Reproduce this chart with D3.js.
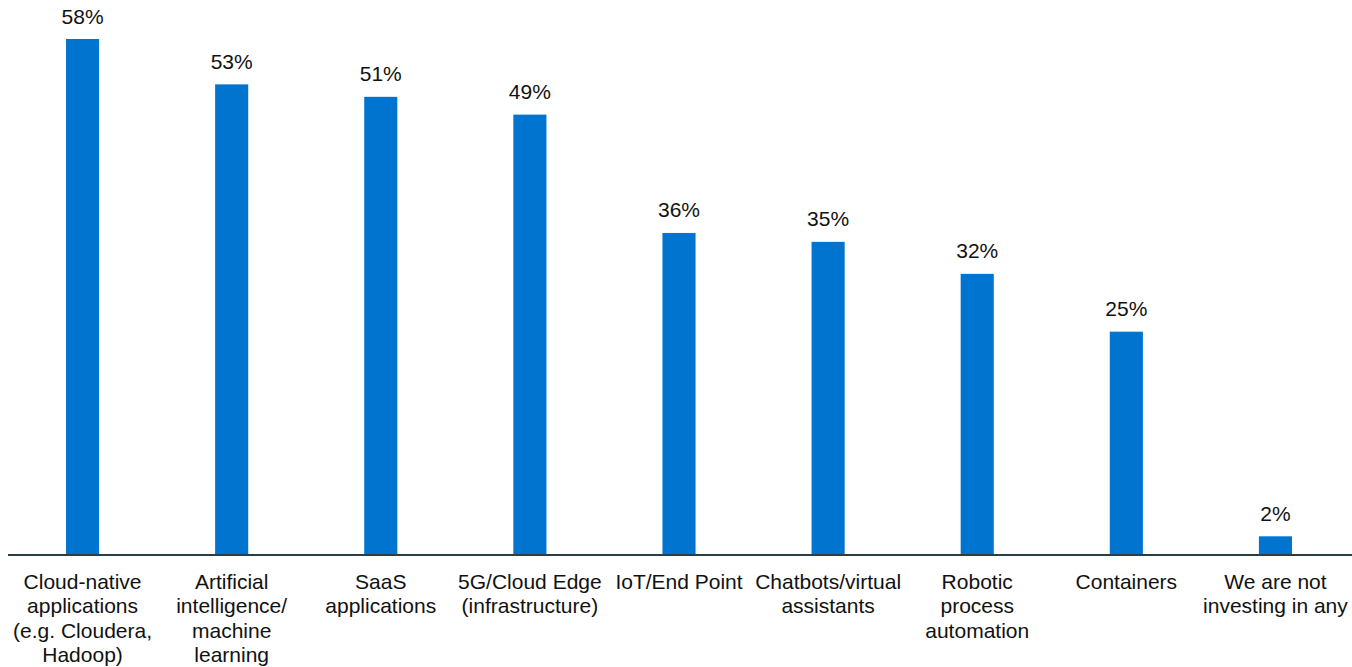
<!DOCTYPE html>
<html><head><meta charset="utf-8">
<script src="https://cdn.jsdelivr.net/npm/d3@7"></script>
<style>html,body{margin:0;padding:0;background:#fff;}svg{display:block;}</style>
</head><body>
<svg id="chart" width="1352" height="667"></svg>
<script>
const categories = [
  ["Cloud-native","applications","(e.g. Cloudera,","Hadoop)"],
  ["Artificial","intelligence/","machine","learning"],
  ["SaaS","applications"],
  ["5G/Cloud Edge","(infrastructure)"],
  ["IoT/End Point"],
  ["Chatbots/virtual","assistants"],
  ["Robotic","process","automation"],
  ["Containers"],
  ["We are not","investing in any"]
];
const values = [58, 52.9, 51.5, 49.5, 36.2, 35.2, 31.6, 25.1, 2.1];
const valueLabels = ["58%","53%","51%","49%","36%","35%","32%","25%","2%"];

const svg = d3.select("#chart");
const baseY = 555;
const x = d3.scaleBand().domain(d3.range(values.length)).range([8, 1350]).paddingInner(0.778).paddingOuter(0.389);
const y = d3.scaleLinear().domain([0, 58]).range([baseY, 39]);
const font = "'Liberation Sans', Arial, sans-serif";

svg.selectAll("rect.bar").data(values).join("rect")
  .attr("class","bar")
  .attr("x",(d,i)=>x(i)).attr("width",x.bandwidth())
  .attr("y",d=>y(d)).attr("height",d=>baseY-y(d))
  .attr("fill","#0074CF");

svg.append("line").attr("x1",8).attr("x2",1352).attr("y1",baseY).attr("y2",baseY)
  .attr("stroke","#2B3D46").attr("stroke-width",2);

svg.selectAll("text.val").data(values).join("text")
  .attr("class","val")
  .attr("x",(d,i)=>x(i)+x.bandwidth()/2)
  .attr("y",d=>y(d)-15.5)
  .attr("text-anchor","middle")
  .attr("font-family",font).attr("font-size",21).attr("fill","#111")
  .text((d,i)=>valueLabels[i]);

const cat = svg.selectAll("text.cat").data(categories).join("text")
  .attr("class","cat")
  .attr("text-anchor","middle")
  .attr("font-family",font).attr("font-size",21).attr("fill","#111");
cat.each(function(lines,i){
  const t = d3.select(this);
  lines.forEach((l,j)=>{
    t.append("tspan").attr("x",x(i)+x.bandwidth()/2).attr("y",589+j*24.3).text(l);
  });
});
</script>
</body></html>
